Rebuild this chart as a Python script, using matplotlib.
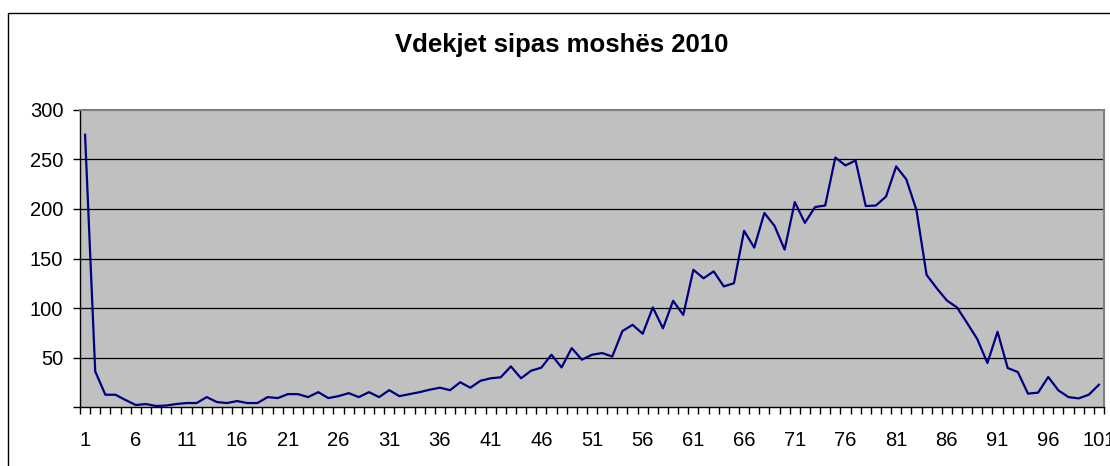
import matplotlib
matplotlib.use("Agg")
import matplotlib.pyplot as plt
from matplotlib.patches import Rectangle
from matplotlib.ticker import FixedLocator

title = "Vdekjet sipas moshës 2010"
ages = list(range(1, 102))
deaths = [275, 36, 12.4, 12.4, 7, 2, 3, 1, 1.5, 3,
          4, 4, 10, 5, 4, 6, 4, 4, 10, 9,
          13, 13, 10, 15, 9, 11, 14, 10, 15, 10,
          17, 11, 13, 15, 17.5, 19.5, 17, 25, 19.5, 26.5,
          29, 30, 41, 29, 36.7, 39.7, 52.8, 40, 59.5, 47.8,
          52.8, 54.5, 51, 76.7, 83, 74, 100.6, 79.4, 107.3, 93,
          138.6, 130, 137, 121.8, 125, 178, 161, 196, 183, 159,
          207, 186, 202, 203.5, 252, 244, 249, 203, 203.5, 212.6,
          243, 230, 199, 133.5, 120, 107.6, 100.6, 84.8, 68.6, 44.4,
          76, 39.4, 35.3, 13.5, 14.5, 30.3, 16.8, 10, 8.7, 12.4,
          22.5]
y_ticks = [0, 50, 100, 150, 200, 250, 300]
y_labels = ["", "50", "100", "150", "200", "250", "300"]
x_label_ages = list(range(1, 102, 5))

plt.rcParams['font.family'] = ['Liberation Sans', 'DejaVu Sans']

W, H = 1110, 466
fig = plt.figure(figsize=(W / 100, H / 100), dpi=100)
fig.patch.set_facecolor("white")

# outer chart border
fig.patches.append(Rectangle((8 / W, -0.1), 1.2, 1.1 - 13 / H,
                             transform=fig.transFigure, fill=False,
                             edgecolor="black", linewidth=1.0))

left, right, top, bottom = 80, 1104, 110, 407
ax = fig.add_axes([left / W, (H - bottom) / H, (right - left) / W, (bottom - top) / H])
ax.set_facecolor("#C0C0C0")

ax.plot(ages, deaths, color="#000080", linewidth=1.6, clip_on=False, zorder=3)

ax.set_xlim(0.5, 101.5)
ax.set_ylim(0, 300)

ax.set_yticks(y_ticks)
ax.set_yticklabels(y_labels)
for v in y_ticks[1:-1]:
    ax.axhline(v, color="black", linewidth=0.9, zorder=1)

ax.xaxis.set_major_locator(FixedLocator(x_label_ages))
ax.set_xticklabels([str(a) for a in x_label_ages])
ax.xaxis.set_minor_locator(FixedLocator([a + 0.5 for a in range(0, 102)]))

ax.tick_params(axis="x", which="major", length=0, pad=17, labelsize=14.5)
ax.tick_params(axis="x", which="minor", length=5, width=1, direction="out", color="black")
ax.tick_params(axis="y", which="major", length=5, width=1, direction="out", pad=7, labelsize=14.5)

for s in ["left", "bottom"]:
    ax.spines[s].set_color("black")
    ax.spines[s].set_linewidth(1.0)
for s in ["right", "top"]:
    ax.spines[s].set_color("#808080")
    ax.spines[s].set_linewidth(1.5)

fig.text(562 / W, 1 - 45 / H, title, ha="center", va="center",
         fontsize=18.5, fontweight="bold")

fig.savefig("out.png", dpi=100)
